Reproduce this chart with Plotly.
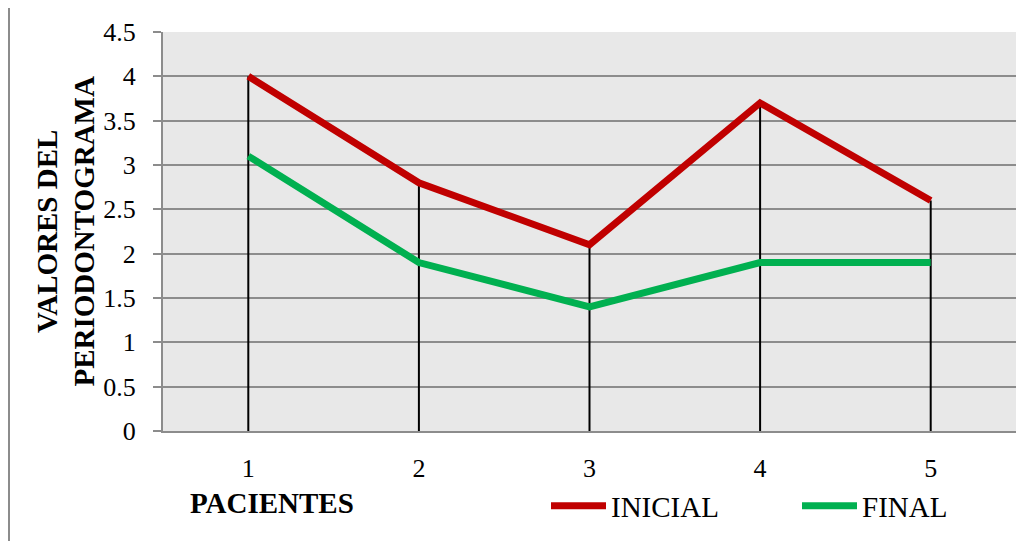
import plotly.graph_objects as go

# Data
pacientes = [1, 2, 3, 4, 5]
inicial = [4.0, 2.8, 2.1, 3.7, 2.6]
final = [3.1, 1.9, 1.4, 1.9, 1.9]
y_ticks = [0, 0.5, 1, 1.5, 2, 2.5, 3, 3.5, 4, 4.5]

FONT = "Liberation Serif, Times New Roman, serif"

# Drop lines from each category's highest value down to zero
drop_x = []
drop_y = []
for p, a, b in zip(pacientes, inicial, final):
    drop_x += [p, p, None]
    drop_y += [0, max(a, b), None]

fig = go.Figure()

fig.add_trace(
    go.Scatter(
        x=drop_x,
        y=drop_y,
        mode="lines",
        line=dict(color="black", width=2),
        showlegend=False,
        hoverinfo="skip"
    )
)

fig.add_trace(
    go.Scatter(
        x=pacientes,
        y=inicial,
        mode="lines",
        name="INICIAL",
        line=dict(color="#C00000", width=7)
    )
)

fig.add_trace(
    go.Scatter(
        x=pacientes,
        y=final,
        mode="lines",
        name="FINAL",
        line=dict(color="#00B050", width=7)
    )
)

# The page body adds an 8px offset; positions below are page pixels
W, H = 1031, 541
OFF = 8
L, R, T, B = 163 - OFF, 23, 32 - OFF, 118
pw = W - L - R
ph = H - T - B


def px_x(px):
    return (px - OFF - L) / pw


def px_y(py):
    return (H - B - (py - OFF)) / ph


fig.update_layout(
    width=W,
    height=H,
    margin=dict(l=L, r=R, t=T, b=B, autoexpand=False),
    paper_bgcolor="white",
    plot_bgcolor="#E8E8E8",
    font=dict(family=FONT, size=26, color="black"),
    showlegend=True,
    legend=dict(
        orientation="h",
        x=px_x(546),
        y=px_y(506),
        xanchor="left",
        yanchor="middle",
        font=dict(family=FONT, size=29, color="black"),
        entrywidth=181,
        entrywidthmode="pixels",
        itemwidth=55,
        bgcolor="rgba(0,0,0,0)",
        traceorder="normal"
    ),
    annotations=[
        dict(
            text="<b>VALORES DEL<br>PERIODONTOGRAMA</b>",
            x=px_x(65),
            y=0.5,
            xref="paper",
            yref="paper",
            textangle=-90,
            showarrow=False,
            xanchor="center",
            yanchor="middle",
            font=dict(family=FONT, size=29, color="black")
        ),
        dict(
            text="<b>PACIENTES</b>",
            x=px_x(272),
            y=px_y(503),
            xref="paper",
            yref="paper",
            showarrow=False,
            xanchor="center",
            yanchor="middle",
            font=dict(family=FONT, size=29, color="black")
        )
    ],
    shapes=[
        dict(
            type="rect",
            xref="paper",
            yref="paper",
            x0=px_x(9),
            x1=px_x(1029),
            y0=px_y(570),
            y1=px_y(5),
            line=dict(color="#8C8C8C", width=2),
            layer="below"
        )
    ]
)

fig.update_xaxes(
    range=[0.5, 5.5],
    tickvals=pacientes,
    ticktext=[str(p) for p in pacientes],
    showgrid=False,
    zeroline=False,
    showline=True,
    linecolor="#8C8C8C",
    linewidth=2,
    ticks="",
    ticklabelstandoff=13,
    tickfont=dict(family=FONT, size=26)
)

fig.update_yaxes(
    range=[0, 4.5],
    tickvals=y_ticks,
    ticktext=[f"{v:g}" for v in y_ticks],
    showgrid=True,
    gridcolor="#8C8C8C",
    gridwidth=2,
    zeroline=False,
    showline=True,
    linecolor="#8C8C8C",
    linewidth=2,
    ticks="outside",
    ticklen=8,
    tickcolor="#8C8C8C",
    tickwidth=2,
    ticklabelstandoff=12,
    tickfont=dict(family=FONT, size=26)
)

fig.write_html("out.html")
